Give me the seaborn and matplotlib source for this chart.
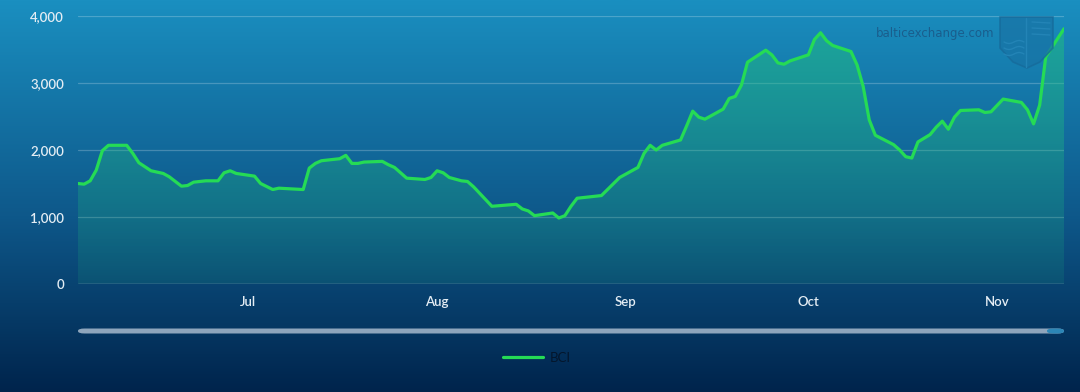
import numpy as np
import pandas as pd
import matplotlib
matplotlib.use("Agg")
import matplotlib.pyplot as plt
import matplotlib.dates as mdates
from matplotlib.patches import FancyBboxPatch, Polygon
from matplotlib.lines import Line2D
import seaborn as sns

sns.set_style("white")
plt.rcParams['font.family'] = ['Lato', 'DejaVu Sans']

# BCI daily values
dates = ['2023-06-03', '2023-06-04', '2023-06-05', '2023-06-06', '2023-06-07', '2023-06-08',
         '2023-06-11', '2023-06-12', '2023-06-13', '2023-06-15', '2023-06-17', '2023-06-18',
         '2023-06-20', '2023-06-21', '2023-06-22', '2023-06-24', '2023-06-26', '2023-06-27',
         '2023-06-28', '2023-06-29', '2023-07-02', '2023-07-03', '2023-07-05', '2023-07-06',
         '2023-07-08', '2023-07-10', '2023-07-11', '2023-07-12', '2023-07-13', '2023-07-16',
         '2023-07-17', '2023-07-18', '2023-07-19', '2023-07-20', '2023-07-23', '2023-07-24',
         '2023-07-25', '2023-07-27', '2023-07-30', '2023-07-31', '2023-08-01', '2023-08-02',
         '2023-08-03', '2023-08-05', '2023-08-06', '2023-08-07', '2023-08-10', '2023-08-14',
         '2023-08-15', '2023-08-16', '2023-08-17', '2023-08-20', '2023-08-21', '2023-08-22',
         '2023-08-23', '2023-08-24', '2023-08-28', '2023-08-31', '2023-09-03', '2023-09-04',
         '2023-09-05', '2023-09-06', '2023-09-07', '2023-09-10', '2023-09-11', '2023-09-12',
         '2023-09-13', '2023-09-14', '2023-09-17', '2023-09-18', '2023-09-19', '2023-09-20',
         '2023-09-21', '2023-09-24', '2023-09-25', '2023-09-26', '2023-09-27', '2023-09-28',
         '2023-10-01', '2023-10-02', '2023-10-03', '2023-10-04', '2023-10-05', '2023-10-06',
         '2023-10-08', '2023-10-09', '2023-10-10', '2023-10-11', '2023-10-12', '2023-10-15',
         '2023-10-16', '2023-10-17', '2023-10-18', '2023-10-19', '2023-10-21', '2023-10-22',
         '2023-10-23', '2023-10-24', '2023-10-25', '2023-10-26', '2023-10-29', '2023-10-30',
         '2023-10-31', '2023-11-02', '2023-11-05', '2023-11-06', '2023-11-07', '2023-11-08',
         '2023-11-09', '2023-11-12']
bci = [1500, 1490, 1540, 1700, 1990, 2070,
       2070, 1950, 1810, 1690, 1650, 1600,
       1460, 1470, 1520, 1540, 1540, 1660,
       1690, 1650, 1610, 1500, 1410, 1430,
       1420, 1410, 1730, 1800, 1840, 1870,
       1920, 1800, 1800, 1820, 1830, 1780,
       1740, 1580, 1560, 1590, 1690, 1660,
       1590, 1540, 1530, 1450, 1160, 1190,
       1120, 1090, 1020, 1060, 985, 1020,
       1160, 1280, 1320, 1590, 1740, 1950,
       2070, 2000, 2070, 2150, 2360, 2580,
       2490, 2460, 2610, 2770, 2800, 2970,
       3310, 3490, 3420, 3300, 3280, 3330,
       3420, 3650, 3750, 3630, 3560, 3530,
       3470, 3270, 2950, 2450, 2220, 2080,
       2000, 1900, 1880, 2120, 2230, 2340,
       2430, 2310, 2490, 2590, 2600, 2560,
       2570, 2760, 2710, 2600, 2390, 2670,
       3390, 3810]
y_ticks = [0, 1000, 2000, 3000, 4000]
month_ticks = ['2023-07-01', '2023-08-01', '2023-09-01', '2023-10-01', '2023-11-01']

df = pd.DataFrame({'date': pd.to_datetime(dates), 'BCI': bci})

fig = plt.figure(figsize=(10.8, 3.92), dpi=100)

# background gradient
bg = fig.add_axes([0, 0, 1, 1], zorder=0)
grad = np.linspace(0, 1, 256).reshape(-1, 1)
top_c = np.array([26, 143, 192]) / 255
mid_c = np.array([14, 88, 138]) / 255
bot_c = np.array([0, 36, 76]) / 255
cols = np.where(grad[..., None] < 0.55,
                top_c + (mid_c - top_c) * (grad[..., None] / 0.55),
                mid_c + (bot_c - mid_c) * ((grad[..., None] - 0.55) / 0.45))
bg.imshow(cols, aspect='auto', extent=[0, 1, 0, 1], origin='upper')
bg.set_axis_off()

ax = fig.add_axes([78 / 1080, 1 - 284 / 392, (1064 - 78) / 1080, (284 - 16) / 392], zorder=1)
ax.patch.set_alpha(0)

sns.lineplot(data=df, x='date', y='BCI', ax=ax, color='#25db55', linewidth=2.3,
             label='BCI', zorder=4)

# gradient fill under the line
xnum = mdates.date2num(df['date'])
verts = [(xnum[0], 0)] + list(zip(xnum, df['BCI'])) + [(xnum[-1], 0)]
poly = Polygon(verts, closed=True, facecolor='none', edgecolor='none')
ax.add_patch(poly)
fill_grad = np.zeros((256, 1, 4))
fill_grad[..., 0] = 0.13
fill_grad[..., 1] = 0.75
fill_grad[..., 2] = 0.50
fill_grad[..., 3] = np.linspace(0.55, 0.12, 256).reshape(-1, 1)
im = ax.imshow(fill_grad, aspect='auto', origin='upper',
               extent=[xnum[0], xnum[-1], 0, 4000], zorder=2)
im.set_clip_path(poly)

ax.set_xlim(xnum[0], xnum[-1])
ax.set_ylim(0, 4000)
ax.set_yticks(y_ticks)
ax.set_yticklabels([f'{v:,}' for v in y_ticks])
ax.set_xticks(mdates.date2num(pd.to_datetime(month_ticks)))
ax.xaxis.set_major_formatter(mdates.DateFormatter('%b'))
for v in y_ticks[1:]:
    ax.axhline(v, color='white', alpha=0.22, linewidth=0.9, zorder=1)
ax.axhline(0, color='#8aa2ba', linewidth=1.0, zorder=3)
for s in ax.spines.values():
    s.set_visible(False)
ax.tick_params(axis='both', length=0, colors='#e4edf4', labelsize=9.5)
ax.tick_params(axis='y', pad=10)
ax.tick_params(axis='x', pad=9)
for lab in ax.get_xticklabels() + ax.get_yticklabels():
    lab.set_fontweight('semibold')
ax.set_xlabel('')
ax.set_ylabel('')

# watermark
fig.text(935 / 1080, 1 - 33 / 392, 'balticexchange.com', ha='center', va='center',
         fontsize=8.5, color='#1a5e8d', family=['DejaVu Sans'])
W, H = 1080, 392
def fpt(x, y):
    return (x / W, 1 - y / H)
shield = Polygon([fpt(1000, 17), fpt(1053, 17), fpt(1053, 48), fpt(1040, 62),
                  fpt(1027, 68), fpt(1013, 62), fpt(1000, 48)], closed=True,
                 facecolor='#1874a6', edgecolor='#166a9a', linewidth=1.2,
                 alpha=0.75, zorder=2, transform=fig.transFigure)
fig.add_artist(shield)
fig.add_artist(Line2D([1026 / W, 1026 / W], [1 - 18 / H, 1 - 67 / H], color='#2384b6',
                      linewidth=1.0, transform=fig.transFigure, zorder=3))
for yy in [42, 48, 54]:
    wx = np.linspace(1004, 1024, 20)
    wy = yy + 1.5 * np.sin((wx - 1004) / 3.2)
    fig.add_artist(Line2D(wx / W, 1 - wy / H, color='#2384b6', linewidth=1.0,
                          transform=fig.transFigure, zorder=3))
for yy in [22, 28, 34]:
    fig.add_artist(Line2D([1032 / W, 1050 / W], [1 - yy / H, 1 - (yy + 1) / H],
                          color='#2384b6', linewidth=1.0, transform=fig.transFigure, zorder=3))

# scrollbar
bar = FancyBboxPatch((78 / W, 1 - 333.5 / H), (1064 - 78) / W, 5 / H,
                     boxstyle='round,pad=0,rounding_size=0.006', facecolor='#8ea5bc',
                     edgecolor='none', transform=fig.transFigure, zorder=3)
fig.add_artist(bar)
bar2 = FancyBboxPatch((1047 / W, 1 - 333.5 / H), (1064 - 1047) / W, 5 / H,
                      boxstyle='round,pad=0,rounding_size=0.006', facecolor='#2c86b6',
                      edgecolor='none', transform=fig.transFigure, zorder=4)
fig.add_artist(bar2)

# legend
leg = ax.legend(loc='center', bbox_to_anchor=(537 / W, 1 - 358 / H),
                bbox_transform=fig.transFigure, frameon=False, fontsize=9.5,
                handlelength=3.0, handletextpad=0.5)
for t in leg.get_texts():
    t.set_color('#04162c')

fig.savefig('out.png', dpi=100)
